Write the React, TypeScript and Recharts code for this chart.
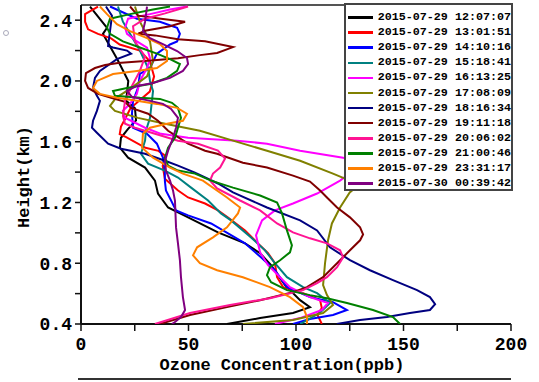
import { ScatterChart, Scatter, XAxis, YAxis, ReferenceLine, Label } from 'recharts';

// ozone (ppb), height (km) pairs read from the profiles
const p1207: [number, number][] = [
  [4.2, 2.49], [12.1, 2.35], [10.2, 2.31], [17, 2.14], [22, 2.0], [21, 1.87], [25.1, 1.82], [25.6, 1.74],
  [21.9, 1.685], [18.6, 1.626], [18.1, 1.561], [21.9, 1.495], [29.8, 1.43], [34.4, 1.344], [35.8, 1.259],
  [40.5, 1.167], [49.8, 1.102], [63.7, 1.003], [76.3, 0.931], [83.3, 0.866], [88.4, 0.787], [94.9, 0.656],
  [101.9, 0.557], [106.5, 0.511], [98.6, 0.472], [83.3, 0.439], [67.9, 0.4],
];
const p1301: [number, number][] = [
  [7.9, 2.49], [1.9, 2.44], [1.9, 2.39], [3.3, 2.34], [7.9, 2.31], [14, 2.28], [18, 2.24], [27.4, 2.2],
  [32, 2.13], [34, 2.03], [32, 1.93], [27, 1.87], [23, 1.82], [20.5, 1.75], [18.6, 1.7], [18, 1.65], [21, 1.63],
  [30, 1.56], [36, 1.54], [39, 1.51], [38, 1.44], [39, 1.357], [45, 1.28], [49.8, 1.233], [57.7, 1.193],
  [63.7, 1.148], [68.4, 1.1], [76.3, 1.016], [82.3, 0.931], [87, 0.866], [90.2, 0.8], [91.2, 0.708], [94, 0.643],
  [103.3, 0.603], [111.2, 0.557], [112, 0.505], [110, 0.46], [112, 0.4],
];
const p1410: [number, number][] = [
  [13.5, 2.49], [26, 2.41], [36.7, 2.39], [44.7, 2.35], [46, 2.31], [44.7, 2.26], [41.4, 2.24], [35.3, 2.18],
  [32.1, 2.085], [27.4, 2.046], [26.5, 1.954], [24.2, 1.869], [23.7, 1.784], [24.2, 1.692], [30.7, 1.652],
  [35.3, 1.587], [38.1, 1.495], [39, 1.41], [39, 1.344], [39.5, 1.279], [41.9, 1.213], [44.2, 1.148], [49.8, 1.115],
  [60.5, 1.062], [68.4, 0.997], [76.3, 0.931], [83.7, 0.839], [90.2, 0.754], [95.8, 0.643], [106.5, 0.577],
  [117.2, 0.544], [123.7, 0.492], [117.2, 0.459], [106.5, 0.433], [98.6, 0.4],
];
const p1518: [number, number][] = [
  [17.2, 2.49], [19.5, 2.39], [22.8, 2.31], [27.4, 2.2], [31.2, 2.085], [32.1, 2.0], [33.5, 1.934], [33, 1.869],
  [32.1, 1.757], [30.2, 1.672], [29.8, 1.607], [27.9, 1.521], [31.2, 1.456], [39, 1.41], [45.1, 1.364],
  [51.2, 1.298], [59.1, 1.213], [65.1, 1.128], [69.8, 1.082], [79.1, 0.97], [85.6, 0.885], [90.2, 0.8],
  [95.8, 0.708], [103.3, 0.643], [109.8, 0.603], [115.8, 0.538], [111, 0.472], [101.9, 0.4],
];
const p1613: [number, number][] = [
  [49.3, 2.49], [41.4, 2.47], [32.1, 2.44], [21.9, 2.41], [20.5, 2.35], [21.4, 2.31], [26, 2.26], [30.7, 2.22],
  [32.1, 2.15], [30.7, 2.085], [27.4, 2.0], [26, 1.915], [22.8, 1.85], [19.5, 1.803], [20.5, 1.757], [23.3, 1.738],
  [29.8, 1.692], [37.2, 1.652], [49.8, 1.626], [72.6, 1.607], [86.5, 1.587], [101.9, 1.541], [121.9, 1.495],
  [129.8, 1.443], [120.5, 1.344], [109.8, 1.259], [98.6, 1.193], [90.2, 1.148], [84.2, 1.082], [81.4, 0.984],
  [83.3, 0.872], [87, 0.787], [97.2, 0.643], [106.5, 0.577], [114.9, 0.538], [112, 0.492], [101.9, 0.439],
  [90.2, 0.4],
];
const p1708: [number, number][] = [
  [25.1, 2.49], [27.4, 2.39], [32.1, 2.26], [33.5, 2.13], [30.7, 2.03], [22.8, 1.948], [16.3, 1.889],
  [13.5, 1.836], [15.8, 1.803], [26.5, 1.757], [39.1, 1.718], [55.3, 1.672], [70.7, 1.607], [86.5, 1.541],
  [101.9, 1.475], [117.2, 1.39], [125, 1.344], [128.8, 1.311], [125, 1.266], [120.5, 1.167], [116.7, 1.062],
  [114.9, 0.951], [113.5, 0.8], [112.6, 0.656], [114.4, 0.59], [117.2, 0.525], [112.6, 0.472], [98.6, 0.426],
  [75.3, 0.4],
];
const p1816: [number, number][] = [
  [11.6, 2.49], [14.4, 2.43], [13.5, 2.33], [12.6, 2.23], [14.9, 2.22], [21.4, 2.2], [23.3, 2.18], [16.7, 2.144],
  [8.8, 2.066], [6.5, 2.02], [5.6, 1.954], [7.4, 1.902], [8.8, 1.869], [7.4, 1.803], [5.6, 1.738], [5.1, 1.692],
  [7.4, 1.659], [12.6, 1.587], [18.6, 1.554], [29.8, 1.521], [39.1, 1.475], [45.1, 1.443], [53, 1.397],
  [63.7, 1.325], [70.7, 1.266], [86.5, 1.167], [101.9, 1.082], [109.8, 1.016], [115.8, 0.905], [125.1, 0.82],
  [134.4, 0.754], [145.1, 0.689], [156.3, 0.623], [162.3, 0.577], [164.7, 0.531], [162.3, 0.492], [153, 0.472],
  [142.3, 0.446], [129.8, 0.426], [119, 0.4],
];
const p1911: [number, number][] = [
  [22.8, 2.49], [26.5, 2.43], [37.2, 2.41], [48.4, 2.39], [41.4, 2.36], [29.8, 2.33], [26.5, 2.31], [34.4, 2.3],
  [45.1, 2.275], [57.7, 2.262], [70.7, 2.223], [63.3, 2.184], [55.3, 2.17], [45.1, 2.15], [29.8, 2.131],
  [17.2, 2.118], [11.2, 2.105], [6.5, 2.085], [2.3, 2.052], [1.9, 2.0], [3.3, 1.954], [7.9, 1.915], [14, 1.889],
  [20.5, 1.862], [23.3, 1.823], [31.2, 1.784], [35.8, 1.738], [40.5, 1.672], [49.8, 1.587], [57.7, 1.541],
  [63.3, 1.521], [75.3, 1.462], [86.5, 1.43], [98.6, 1.377], [106.5, 1.338], [111.2, 1.279], [114.4, 1.233],
  [119.1, 1.167], [125.1, 1.102], [129.8, 1.036], [131.2, 0.99], [129.8, 0.951], [125.1, 0.885], [119.1, 0.8],
  [112.6, 0.708], [105.1, 0.643], [98.6, 0.61], [83.3, 0.557], [67.9, 0.511], [50.7, 0.459], [36.7, 0.4],
];
const p2006: [number, number][] = [
  [49.8, 2.49], [39.1, 2.445], [29.8, 2.41], [24.2, 2.36], [25.1, 2.26], [29.8, 2.16], [27.4, 2.066],
  [23.7, 1.967], [20.5, 1.869], [19.5, 1.77], [20.5, 1.718], [25.1, 1.692], [34.4, 1.652], [45.1, 1.607],
  [54.4, 1.587], [63.7, 1.541], [67, 1.489], [64.7, 1.43], [61.4, 1.39], [60, 1.344], [63.3, 1.292], [74, 1.213],
  [83.3, 1.148], [91.2, 1.062], [98.6, 1.003], [106.5, 0.964], [114.4, 0.931], [120.5, 0.885], [121.9, 0.839],
  [119.1, 0.774], [114.4, 0.708], [109.8, 0.669], [103.3, 0.623], [87.9, 0.57], [69.3, 0.525], [50.7, 0.472],
  [34.4, 0.4],
];
const p2100: [number, number][] = [
  [41.4, 2.49], [33.5, 2.47], [22.8, 2.44], [13.5, 2.41], [12.1, 2.35], [13.5, 2.31], [19.5, 2.26], [27.4, 2.22],
  [35.3, 2.18], [41.4, 2.144], [46, 2.111], [44.7, 2.066], [40, 2.02], [32.1, 1.98], [21.4, 1.954], [14.9, 1.934],
  [15.8, 1.902], [27.4, 1.889], [36.7, 1.882], [42.3, 1.856], [45.1, 1.823], [46.5, 1.757], [45.1, 1.692],
  [43.7, 1.626], [40.5, 1.561], [39.1, 1.495], [40.5, 1.443], [45.1, 1.41], [53, 1.39], [60.5, 1.344],
  [70.7, 1.298], [83.3, 1.246], [91.2, 1.2], [93.5, 1.128], [95.8, 1.016], [98.1, 0.918], [97.2, 0.872],
  [92.6, 0.82], [87.9, 0.774], [86.5, 0.721], [88.4, 0.675], [95.8, 0.623], [106.5, 0.59], [114.4, 0.57],
  [123.7, 0.538], [135.8, 0.492], [145.1, 0.446], [148.4, 0.4],
];
const p2331: [number, number][] = [
  [8.8, 2.49], [12.1, 2.44], [16.7, 2.374], [22.8, 2.328], [30.7, 2.282], [36.7, 2.243], [40, 2.197], [40, 2.131],
  [35.3, 2.085], [26, 2.066], [14.9, 2.046], [7.4, 2.0], [5.6, 1.954], [8.8, 1.915], [16.7, 1.889], [26, 1.869],
  [35.3, 1.849], [44.7, 1.823], [49.3, 1.784], [47.4, 1.738], [40, 1.718], [32.1, 1.692], [28.8, 1.652],
  [28.4, 1.561], [33.5, 1.495], [41.4, 1.43], [47.4, 1.39], [56.7, 1.344], [67.9, 1.233], [74, 1.167],
  [73, 1.128], [67.9, 1.036], [61.4, 0.97], [54, 0.905], [52.1, 0.852], [55.3, 0.8], [63.3, 0.754], [75.3, 0.708],
  [87.9, 0.643], [97.2, 0.577], [103.3, 0.511], [105.1, 0.446], [105.1, 0.4],
];
const p0039: [number, number][] = [
  [30.7, 2.49], [29.8, 2.39], [28.8, 2.328], [32.1, 2.282], [38.1, 2.243], [44.7, 2.197], [49.3, 2.151],
  [49.8, 2.111], [47.4, 2.066], [41.4, 2.02], [33.5, 1.987], [26, 1.967], [21.4, 1.934], [23.7, 1.895],
  [32.1, 1.869], [38.1, 1.849], [41.9, 1.816], [45.1, 1.757], [44.2, 1.692], [42.8, 1.626], [40.5, 1.541],
  [39.1, 1.475], [39.5, 1.41], [41.4, 1.344], [42.8, 1.279], [43.7, 1.213], [44.2, 1.036], [45.1, 0.931],
  [46, 0.82], [46.5, 0.708], [47.4, 0.577], [48.4, 0.492], [46.5, 0.446], [43.7, 0.413], [42.3, 0.4],
];

const names = [
  '2015-07-29 12:07:07', '2015-07-29 13:01:51', '2015-07-29 14:10:16', '2015-07-29 15:18:41',
  '2015-07-29 16:13:25', '2015-07-29 17:08:09', '2015-07-29 18:16:34', '2015-07-29 19:11:18',
  '2015-07-29 20:06:02', '2015-07-29 21:00:46', '2015-07-29 23:31:17', '2015-07-30 00:39:42',
];
const colors = [
  '#000000', '#ff0000', '#0000ff', '#008080', '#ff00ff', '#808000',
  '#000080', '#800000', '#ff1493', '#008000', '#ff8000', '#800080',
];
const profiles = [p1207, p1301, p1410, p1518, p1613, p1708, p1816, p1911, p2006, p2100, p2331, p0039];

const xTicks = [0, 25, 50, 75, 100, 125, 150, 175, 200];
const yTicks = [0.4, 0.6, 0.8, 1.0, 1.2, 1.4, 1.6, 1.8, 2.0, 2.2, 2.4];

const FONT = "'Liberation Mono', 'DejaVu Sans Mono', monospace";
const tickStyle = { fontFamily: FONT, fontSize: 18, fontWeight: 'bold', fill: '#000' };

const noDot = () => <g />;

const LegendBox = () => (
  <div
    style={{
      position: 'absolute',
      left: 344,
      top: 3,
      width: 165,
      height: 184,
      border: '2px solid #444',
      background: '#fff',
    }}
  >
    {names.map((n, i) => (
      <div key={n} style={{ display: 'flex', alignItems: 'center', height: 15.1, marginTop: i === 0 ? 5 : 0 }}>
        <div style={{ width: 25, height: 2.5, background: colors[i], marginLeft: 2, marginRight: 5 }} />
        <span
          style={{
            fontFamily: FONT,
            fontSize: 11.7,
            fontWeight: 'bold',
            color: '#000',
            whiteSpace: 'pre',
            lineHeight: '15px',
          }}
        >
          {n}
        </span>
      </div>
    ))}
  </div>
);

export default function App() {
  const series = profiles.map((p) => p.map(([o, h]) => ({ o, h })));
  return (
    <div style={{ position: 'absolute', left: 0, top: 0, width: 539, height: 382, background: '#fff' }}>
      <ScatterChart width={539} height={382} margin={{ top: 5, right: 28, bottom: 0, left: 0 }}>
        <XAxis
          type="number"
          dataKey="o"
          domain={[0, 200]}
          ticks={xTicks}
          interval={0}
          allowDataOverflow
          tickFormatter={(v) => (v % 50 === 0 ? String(v) : '')}
          tick={tickStyle}
          tickSize={7}
          tickMargin={6}
          height={58}
          axisLine={{ stroke: '#111', strokeWidth: 2 }}
          tickLine={{ stroke: '#111', strokeWidth: 1.5 }}
        >
          <Label
            content={() => (
              <text x={282} y={370} textAnchor="middle" style={{ fontFamily: FONT, fontSize: 17, fontWeight: 'bold' }}>
                Ozone Concentration(ppb)
              </text>
            )}
          />
        </XAxis>
        <YAxis
          type="number"
          dataKey="h"
          domain={[0.4, 2.5]}
          ticks={yTicks}
          interval={0}
          allowDataOverflow
          tickFormatter={(v) => (Math.round(v * 10) % 4 === 0 ? v.toFixed(1) : '')}
          tick={tickStyle}
          tickSize={6}
          tickMargin={3}
          width={81}
          axisLine={{ stroke: '#111', strokeWidth: 2 }}
          tickLine={{ stroke: '#111', strokeWidth: 1.5 }}
        >
          <Label
            content={() => (
              <text
                x={29}
                y={177}
                textAnchor="middle"
                transform="rotate(-90 29 177)"
                style={{ fontFamily: FONT, fontSize: 17, fontWeight: 'bold' }}
              >
                Height(km)
              </text>
            )}
          />
        </YAxis>
        <ReferenceLine y={2.5} stroke="#555" strokeWidth={2} />
        {series.map((d, i) => (
          <Scatter
            key={names[i]}
            name={names[i]}
            data={d}
            fill={colors[i]}
            line={{ stroke: colors[i], strokeWidth: 2 }}
            lineType="joint"
            shape={noDot}
            isAnimationActive={false}
          />
        ))}
      </ScatterChart>
      <LegendBox />
      <div style={{ position: 'absolute', left: 78, top: 378, width: 433, height: 2, background: '#333' }} />
      <div
        style={{
          position: 'absolute',
          left: 3,
          top: 30,
          width: 4,
          height: 4,
          borderRadius: 3,
          border: '1px solid #aab',
        }}
      />
    </div>
  );
}
